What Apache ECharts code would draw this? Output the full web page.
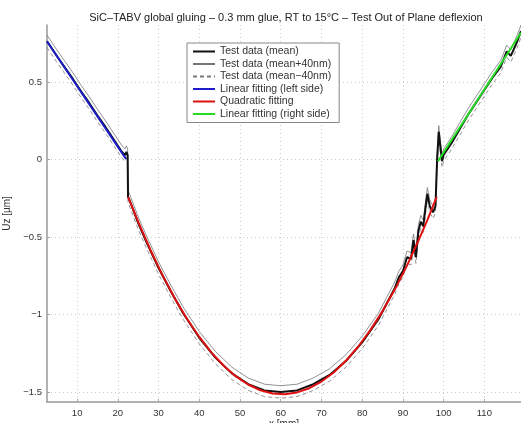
<!DOCTYPE html>
<html>
<head>
<meta charset="utf-8">
<script src="https://cdn.jsdelivr.net/npm/echarts@6/dist/echarts.min.js"></script>
<style>
  html, body { margin: 0; padding: 0; background: #fff; }
  #chart { width: 521px; height: 423px; }
</style>
</head>
<body>
<div id="chart"></div>
<script>
// measured test data (mean) along x [mm]
const meanX = [2.6, 5, 7, 9, 11, 13, 15, 17, 19, 21, 21.8, 22.1, 22.4, 22.5, 23, 25, 27, 30, 33, 36, 40, 44, 48, 52,
  56, 60, 64, 68, 72, 76, 80, 84, 86, 88, 89, 90, 91, 92, 92.6, 93.2, 93.8, 94.4, 95, 95.6,
  96, 96.6, 97.4, 98, 98.4, 98.8, 99.6, 100, 102, 104, 106, 108, 110, 112, 114, 115.5, 116.5, 118, 119];
const meanY = [0.765, 0.67, 0.595, 0.52, 0.44, 0.365, 0.285, 0.21, 0.13, 0.05, 0.03, 0.05, 0.03, -0.24,
  -0.27, -0.41, -0.53, -0.70, -0.85, -0.99, -1.15, -1.28, -1.38, -1.45,
  -1.49, -1.50, -1.49, -1.45, -1.39, -1.30, -1.18, -1.03, -0.93, -0.83,
  -0.76, -0.72, -0.63, -0.64, -0.52, -0.63, -0.46, -0.40, -0.43, -0.30,
  -0.22, -0.30, -0.34, -0.30, 0.0, 0.18, -0.01,
  0.03, 0.11, 0.20, 0.29, 0.37, 0.45, 0.53, 0.60, 0.70, 0.67, 0.76, 0.83];
const upperY = [0.805, 0.71, 0.635, 0.56, 0.48, 0.405, 0.325, 0.25, 0.17, 0.09, 0.07, 0.09, 0.07, -0.20,
  -0.23, -0.37, -0.49, -0.66, -0.81, -0.95, -1.11, -1.24, -1.34, -1.41,
  -1.45, -1.46, -1.45, -1.41, -1.35, -1.26, -1.14, -0.99, -0.89, -0.79,
  -0.72, -0.68, -0.59, -0.60, -0.48, -0.59, -0.42, -0.36, -0.39, -0.26,
  -0.18, -0.26, -0.30, -0.26, 0.04, 0.22, 0.03,
  0.07, 0.15, 0.24, 0.33, 0.41, 0.49, 0.57, 0.64, 0.74, 0.71, 0.80, 0.87];
const lowerY = [0.725, 0.63, 0.555, 0.48, 0.40, 0.325, 0.245, 0.17, 0.09, 0.01, -0.01, 0.01, -0.01, -0.28,
  -0.31, -0.45, -0.57, -0.74, -0.89, -1.03, -1.19, -1.32, -1.42, -1.49,
  -1.53, -1.54, -1.53, -1.49, -1.43, -1.34, -1.22, -1.07, -0.97, -0.87,
  -0.80, -0.76, -0.67, -0.68, -0.56, -0.67, -0.50, -0.44, -0.47, -0.34,
  -0.26, -0.34, -0.38, -0.34, -0.04, 0.14, -0.05,
  -0.01, 0.07, 0.16, 0.25, 0.33, 0.41, 0.49, 0.56, 0.66, 0.63, 0.72, 0.79];

// fits
const leftFitX = [2.6, 22];
const leftFitY = [0.765, 0.005];
const quadX = [22.5, 25, 28, 31, 34, 37, 40, 43, 46, 49, 52, 55, 58, 61, 64, 67, 70, 73, 76, 79, 82, 85, 88, 91, 94, 96, 98.3];
const quadY = [-0.240, -0.402, -0.583, -0.747, -0.896, -1.029, -1.145, -1.246, -1.331, -1.400, -1.452, -1.489, -1.510,
  -1.515, -1.503, -1.476, -1.433, -1.374, -1.299, -1.208, -1.101, -0.978, -0.839, -0.684, -0.512, -0.390, -0.240];
const rightFitX = [98.6, 119];
const rightFitY = [-0.01, 0.82];

const xTicks = [10, 20, 30, 40, 50, 60, 70, 80, 90, 100, 110];
const yTicks = [-1.5, -1, -0.5, 0, 0.5];

const zip = (xs, ys) => xs.map((x, i) => [x, ys[i]]);

const chart = echarts.init(document.getElementById('chart'));
const font = 'Liberation Sans, Arial, sans-serif';

chart.setOption({
  animation: false,
  backgroundColor: '#fff',
  textStyle: { fontFamily: font },
  title: {
    text: 'SiC–TABV global gluing – 0.3 mm glue, RT to 15°C – Test Out of Plane deflexion',
    left: 281,
    top: 7,
    textAlign: 'center',
    textStyle: { fontSize: 11, fontWeight: 'normal', color: '#222', fontFamily: font }
  },
  legend: {
    orient: 'vertical',
    left: 187,
    top: 43,
    padding: [3, 8, 3, 5],
    itemWidth: 22,
    itemHeight: 10,
    itemGap: 1.5,
    backgroundColor: '#fff',
    borderColor: '#888',
    borderWidth: 1,
    borderRadius: 0,
    itemStyle: { opacity: 0 },
    textStyle: { fontSize: 10.5, color: '#333', fontFamily: font },
    data: ['Test data (mean)', 'Test data (mean+40nm)', 'Test data (mean−40nm)',
      'Linear fitting (left side)', 'Quadratic fitting', 'Linear fitting (right side)']
  },
  grid: { left: 47, right: 0, top: 25, bottom: 21, outerBoundsMode: 'none', containLabel: false },
  xAxis: {
    type: 'value',
    min: 2.6,
    max: 119,
    name: 'x [mm]',
    nameLocation: 'middle',
    nameGap: 17,
    nameMoveOverlap: false,
    nameTextStyle: { fontSize: 10, color: '#333' },
    axisLine: { onZero: false, lineStyle: { color: '#999', width: 1.5 } },
    axisTick: { show: true, inside: true, length: 3, customValues: xTicks, lineStyle: { color: '#aaa' } },
    axisLabel: { customValues: xTicks, fontSize: 9.5, color: '#333', margin: 6 },
    splitLine: { show: true, lineStyle: { color: '#ccc', type: [1, 3], width: 1 } }
  },
  yAxis: {
    type: 'value',
    min: -1.565,
    max: 0.87,
    name: 'Uz [µm]',
    nameLocation: 'middle',
    nameGap: 30,
    nameRotate: 90,
    nameTextStyle: { fontSize: 10, color: '#333' },
    axisLine: { show: true, onZero: false, lineStyle: { color: '#999', width: 1.5 } },
    axisTick: { show: true, inside: true, length: 3, customValues: yTicks, lineStyle: { color: '#aaa' } },
    axisLabel: {
      customValues: yTicks,
      fontSize: 9.5,
      color: '#333',
      margin: 5,
      formatter: v => String(v).replace('-', '−')
    },
    splitLine: { show: true, lineStyle: { color: '#ccc', type: [1, 3], width: 1 } }
  },
  series: [
    {
      name: 'Test data (mean)', type: 'line', symbol: 'none', clip: true,
      lineStyle: { color: '#111', width: 2 }, itemStyle: { color: '#111' },
      data: zip(meanX, meanY), z: 3
    },
    {
      name: 'Test data (mean+40nm)', type: 'line', symbol: 'none', clip: true,
      lineStyle: { color: '#777', width: 0.8 }, itemStyle: { color: '#777' },
      data: zip(meanX, upperY), z: 2
    },
    {
      name: 'Test data (mean−40nm)', type: 'line', symbol: 'none', clip: true,
      lineStyle: { color: '#777', width: 0.8, type: [4, 3] }, itemStyle: { color: '#777' },
      data: zip(meanX, lowerY), z: 2
    },
    {
      name: 'Linear fitting (left side)', type: 'line', symbol: 'none', clip: true,
      lineStyle: { color: '#1c1cc8', width: 2 }, itemStyle: { color: '#1c1cc8' },
      data: zip(leftFitX, leftFitY), z: 4
    },
    {
      name: 'Quadratic fitting', type: 'line', symbol: 'none', clip: true,
      lineStyle: { color: '#e01010', width: 2 }, itemStyle: { color: '#e01010' },
      data: zip(quadX, quadY), z: 4
    },
    {
      name: 'Linear fitting (right side)', type: 'line', symbol: 'none', clip: true,
      lineStyle: { color: '#22dd22', width: 2 }, itemStyle: { color: '#22dd22' },
      data: zip(rightFitX, rightFitY), z: 4
    }
  ]
});
</script>
</body>
</html>
